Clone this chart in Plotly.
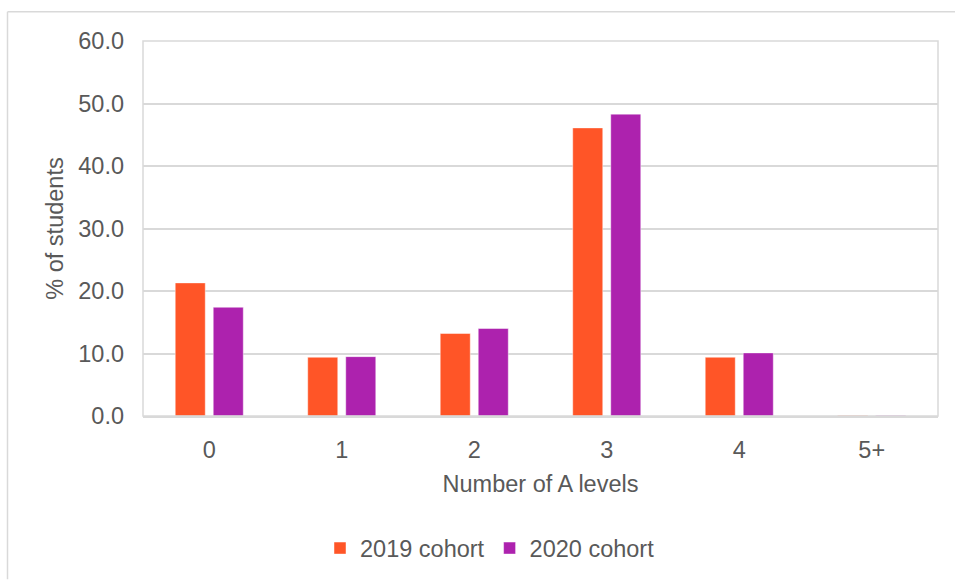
import plotly.graph_objects as go

categories = ["0", "1", "2", "3", "4", "5+"]
cohort_2019 = [21.3, 9.4, 13.2, 46.1, 9.4, 0.1]
cohort_2020 = [17.4, 9.5, 14.0, 48.3, 10.1, 0.1]
series_names = ["2019 cohort", "2020 cohort"]
y_ticks = [0, 10, 20, 30, 40, 50, 60]
y_tick_labels = ["0.0", "10.0", "20.0", "30.0", "40.0", "50.0", "60.0"]

W, H = 955, 582
ML, MR, MT, MB = 143, 17, 41, 164
PW, PH = W - ML - MR, H - MT - MB

FONT = "Liberation Sans, Arial, sans-serif"
FS = 23.5
GREY = "#595959"
GRID = "#d9d9d9"

fig = go.Figure()
fig.add_trace(go.Bar(x=categories, y=cohort_2019, name=series_names[0],
                     marker=dict(color="#FF5527", line=dict(color="rgba(255,255,255,0.45)", width=1))))
fig.add_trace(go.Bar(x=categories, y=cohort_2020, name=series_names[1],
                     marker=dict(color="#AD22AE", line=dict(color="rgba(255,255,255,0.45)", width=1))))

def px_to_paper_x(px):
    return (px - ML) / PW

def px_to_paper_y(py):
    return (H - MB - py) / PH

shapes = [
    dict(type="line", xref="paper", yref="paper",
         x0=px_to_paper_x(7.5), x1=px_to_paper_x(955), y0=px_to_paper_y(11.5), y1=px_to_paper_y(11.5),
         line=dict(color=GRID, width=1.5)),
    dict(type="line", xref="paper", yref="paper",
         x0=px_to_paper_x(7.5), x1=px_to_paper_x(7.5), y0=px_to_paper_y(11.5), y1=px_to_paper_y(582),
         line=dict(color=GRID, width=1.5)),
    dict(type="rect", xref="paper", yref="paper", x0=0, x1=1, y0=0, y1=1,
         line=dict(color=GRID, width=1.5), layer="above"),
]

fig.update_layout(
    width=W, height=H,
    margin=dict(l=ML, r=MR, t=MT, b=MB, pad=0),
    paper_bgcolor="white", plot_bgcolor="white",
    font=dict(family=FONT, size=FS, color=GREY),
    barmode="group", bargap=0.426, bargroupgap=0.21,
    showlegend=True,
    legend=dict(orientation="h", x=px_to_paper_x(490), xanchor="center", y=px_to_paper_y(551), yanchor="middle",
                font=dict(family=FONT, size=FS, color=GREY), itemwidth=30, traceorder="normal",
                bgcolor="rgba(0,0,0,0)"),
    shapes=shapes,
)
fig.update_xaxes(
    type="category", showgrid=False, showline=True, linecolor=GRID, linewidth=1.5,
    ticks="", ticklabelstandoff=12,
    tickfont=dict(family=FONT, size=FS, color=GREY),
    title=dict(text="Number of A levels", font=dict(family=FONT, size=FS, color=GREY), standoff=14),
)
fig.update_yaxes(
    range=[0, 60], tickvals=y_ticks, ticktext=y_tick_labels,
    showgrid=True, gridcolor=GRID, gridwidth=1.5, zeroline=False,
    showline=False, ticks="", ticklabelstandoff=18,
    tickfont=dict(family=FONT, size=FS, color=GREY),
    title=dict(text="% of students", font=dict(family=FONT, size=FS, color=GREY), standoff=8),
)

fig.write_html("out.html", config={"displayModeBar": False},
               post_script="document.body.style.margin='0';document.body.style.padding='0';")
